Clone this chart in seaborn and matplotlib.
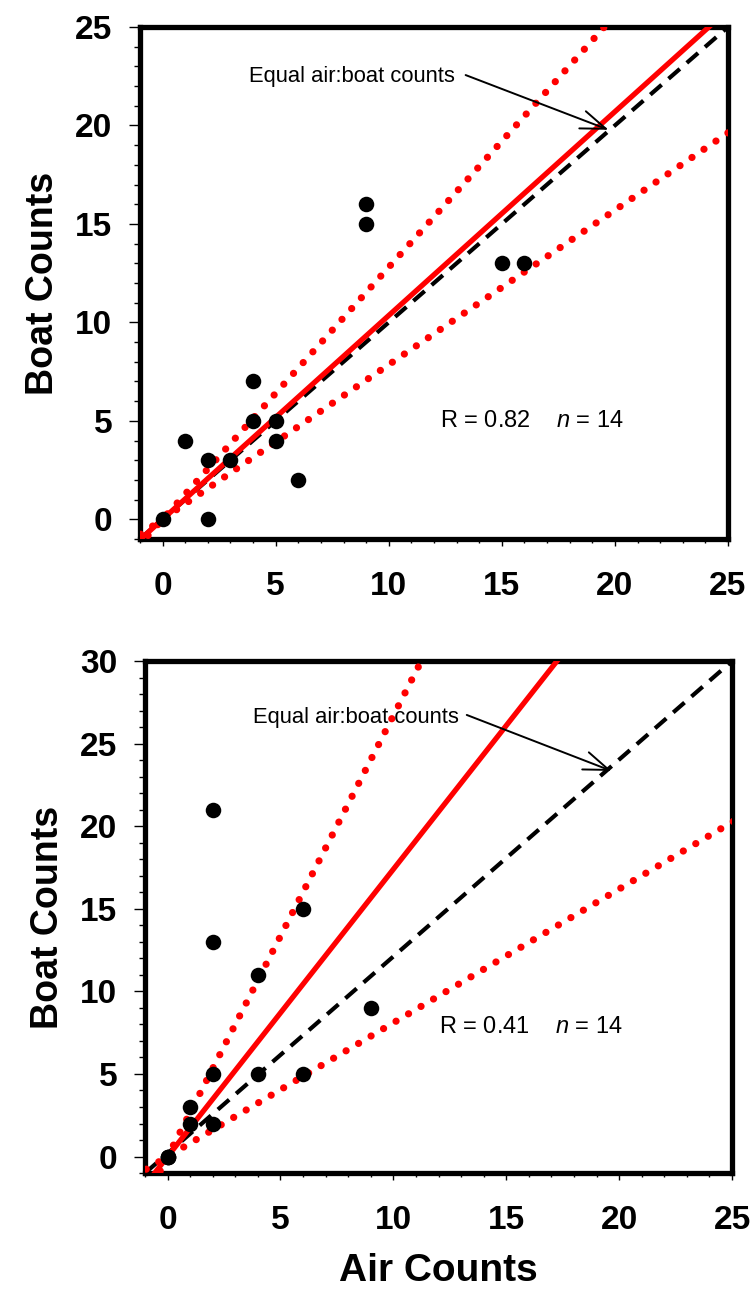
import numpy as np
import pandas as pd
import matplotlib
matplotlib.use("Agg")
import matplotlib.pyplot as plt
import seaborn as sns
from matplotlib.ticker import MultipleLocator

sns.set_theme(style="white")
plt.rcParams['font.family'] = ['Liberation Sans', 'DejaVu Sans']
plt.rcParams['mathtext.fontset'] = 'custom'
plt.rcParams['mathtext.rm'] = 'Liberation Sans'
plt.rcParams['mathtext.it'] = 'Liberation Sans:italic'
for k in ['text.color', 'axes.labelcolor', 'xtick.color', 'ytick.color']:
    plt.rcParams[k] = 'black'

# ---- data ----
top_air = [0, 1, 2, 2, 3, 4, 4, 5, 5, 6, 9, 9, 15, 16]
top_boat = [0, 4, 3, 0, 3, 7, 5, 5, 4, 2, 16, 15, 13, 13]
bot_air = [0, 0, 0, 1, 1, 2, 2, 2, 2, 4, 4, 6, 6, 9]
bot_boat = [0, 0, 0, 3, 2, 2, 5, 13, 21, 11, 5, 15, 5, 9]

top_fit_slope = 1.035
top_upper_slope = 1.28
top_lower_slope = 0.785
bot_fit_slope = 1.74
bot_upper_slope = 2.67
bot_lower_slope = 0.81

top_stats = "R = 0.82    $n$ = 14"
bot_stats = "R = 0.41    $n$ = 14"
annot_text = "Equal air:boat counts"
x_ticks = [0, 5, 10, 15, 20, 25]
top_y_ticks = [0, 5, 10, 15, 20, 25]
bot_y_ticks = [0, 5, 10, 15, 20, 25, 30]

fig = plt.figure(figsize=(7.55, 13.05), dpi=100)
ax1 = fig.add_axes([0.1854, 0.587, 0.7788, 0.3923])
ax2 = fig.add_axes([0.1921, 0.1011, 0.7775, 0.3923])

def style_axes(ax, ylim, yticks):
    ax.set_xlim(-1, 25)
    ax.set_ylim(*ylim)
    ax.set_xticks(x_ticks)
    ax.set_yticks(yticks)
    ax.xaxis.set_minor_locator(MultipleLocator(1))
    ax.yaxis.set_minor_locator(MultipleLocator(1))
    for s in ax.spines.values():
        s.set_linewidth(3.8)
        s.set_color('black')
        s.set_capstyle('projecting')
    ax.tick_params(axis='both', which='both', direction='out', color='black',
                   bottom=True, left=True, top=False, right=False)
    ax.tick_params(axis='x', which='major', length=5, width=1, pad=18,
                   labelsize=24)
    ax.tick_params(axis='x', which='minor', length=3, width=1)
    ax.tick_params(axis='y', which='major', length=8, width=1, pad=12,
                   labelsize=24)
    ax.tick_params(axis='y', which='minor', length=4, width=1)
    for lab in ax.get_xticklabels() + ax.get_yticklabels():
        lab.set_fontweight('bold')
    ax.set_ylabel("Boat Counts", fontsize=27, fontweight='bold', labelpad=10)
    ax.grid(False)

def draw_panel(ax, air, boat, ylim, fit, up, lo, stats, stats_xy,
               txt_xy, arrow_tail, arrow_head):
    xs = np.array([-1.5, 26.0])
    # equal line: corner to corner
    ax.plot([-1, 25], [ylim[0], ylim[1]], color='black', lw=3.0,
            linestyle=(0, (3.6, 2.2)), zorder=2)
    ax.plot(xs, up * xs, color='red', lw=5.2, linestyle=(0, (0.01, 2.0)),
            dash_capstyle='round', zorder=3)
    ax.plot(xs, lo * xs, color='red', lw=5.2, linestyle=(0, (0.01, 2.0)),
            dash_capstyle='round', zorder=3)
    ax.plot(xs, fit * xs, color='red', lw=3.8, solid_capstyle='butt', zorder=3)
    df = pd.DataFrame({'air': air, 'boat': boat})
    sns.scatterplot(data=df, x='air', y='boat', ax=ax, color='black', s=125,
                    edgecolor='black', linewidth=0, zorder=4, clip_on=False)
    ax.text(stats_xy[0], stats_xy[1], stats, fontsize=17, va='center',
            ha='left')
    ax.text(txt_xy[0], txt_xy[1], annot_text, fontsize=15.8, va='center',
            ha='left')
    ax.annotate("", xy=arrow_head, xytext=arrow_tail,
                arrowprops=dict(arrowstyle='->,head_length=1.5,head_width=0.55',
                                color='black', lw=1.4, shrinkA=0, shrinkB=0))

draw_panel(ax1, top_air, top_boat, (-1, 25), top_fit_slope, top_upper_slope,
           top_lower_slope, top_stats, (12.25, 5.0), (3.8, 22.5),
           (13.4, 22.56), (19.72, 19.78))
draw_panel(ax2, bot_air, bot_boat, (-1, 30), bot_fit_slope, bot_upper_slope,
           bot_lower_slope, bot_stats, (12.0, 7.86), (3.78, 26.6),
           (13.25, 26.74), (19.66, 23.35))

style_axes(ax1, (-1, 25), top_y_ticks)
style_axes(ax2, (-1, 30), bot_y_ticks)
ax1.set_xlabel("")
ax2.set_xlabel("Air Counts", fontsize=28, fontweight='bold', labelpad=12)

fig.savefig("out.png", dpi=100)
